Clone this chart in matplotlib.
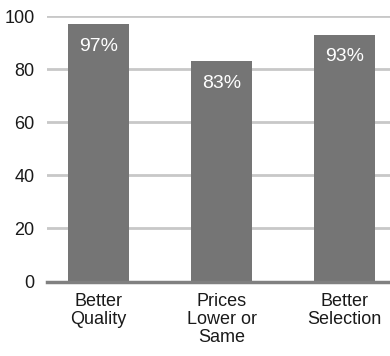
import matplotlib.pyplot as plt
from matplotlib import font_manager

categories = ["Better\nQuality", "Prices\nLower or\nSame", "Better\nSelection"]
values = [97, 83, 93]
yticks = [0, 20, 40, 60, 80, 100]

names = {f.name for f in font_manager.fontManager.ttflist}
family = "Liberation Sans Narrow" if "Liberation Sans Narrow" in names else "Liberation Sans"
plt.rcParams["font.family"] = [family, "DejaVu Sans"]

fig = plt.figure(figsize=(3.9, 3.56), dpi=100)
ax = fig.add_axes([47 / 390, 0.209, 1 - 47 / 390, 0.746])

x = range(len(values))
ax.bar(x, values, width=0.5, color="#757575", zorder=3)
# white value labels just inside the top of each bar
for xi, v in zip(x, values):
    ax.text(xi, v - 8.3, f"{v}%", ha="center", va="center", color="white",
            fontsize=14, zorder=4)

ax.set_ylim(0, 100)
ax.set_xlim(-0.42, 2.37)
ax.set_yticks(yticks)
ax.set_xticks(list(x))
ax.set_xticklabels(categories, fontsize=13, linespacing=1.1)
ax.tick_params(axis="y", length=0, labelsize=13, colors="#1a1a1a", pad=9)
ax.tick_params(axis="x", length=0, colors="#1a1a1a", pad=8)
ax.yaxis.grid(True, color="#c8c8c8", linewidth=2, zorder=0)
for s in ax.spines.values():
    s.set_visible(False)
ax.axhline(0, color="#808080", linewidth=2.5, zorder=5, clip_on=False)

fig.savefig("out.png", dpi=100)
